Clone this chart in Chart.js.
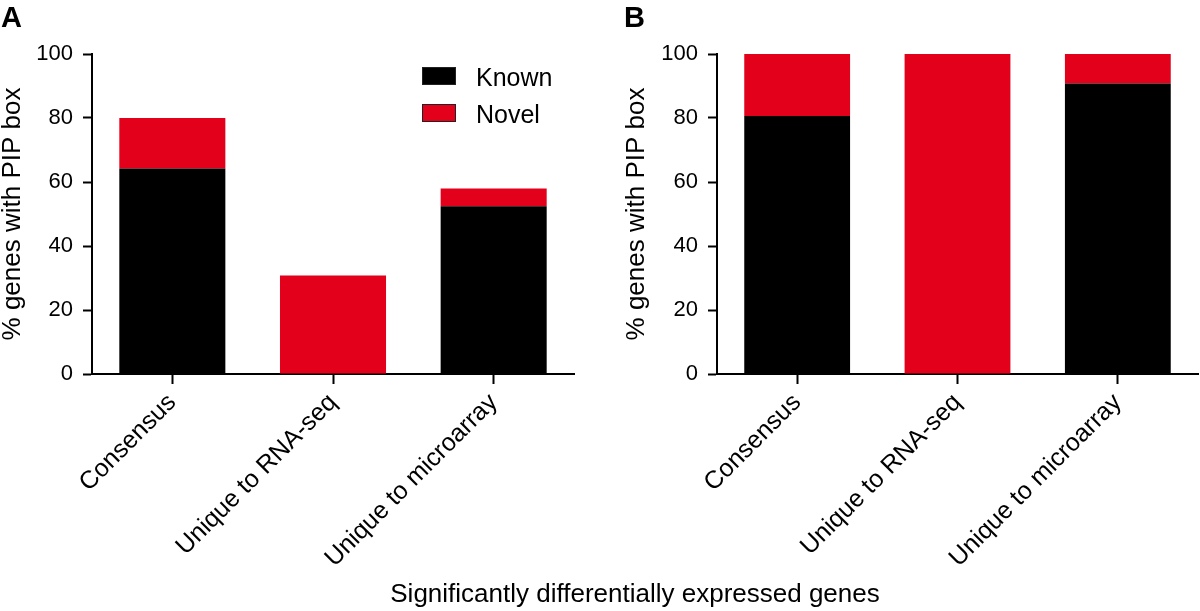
<!DOCTYPE html>
<html><head><meta charset="utf-8">
<script src="https://cdn.jsdelivr.net/npm/chart.js@4.4.0/dist/chart.umd.min.js"></script>
<style>
body{margin:0;background:#fff;width:1200px;height:611px;position:relative;overflow:hidden;font-family:'Liberation Sans',Arial,Helvetica,sans-serif;color:#000;}
.wrap{position:absolute;top:0;width:600px;height:611px;}
canvas{display:block;}
.letter{position:absolute;font-weight:bold;font-size:29px;line-height:29px;top:3px;}
.xtitle{position:absolute;left:0;width:1270px;text-align:center;top:580px;font-size:26px;line-height:26px;}
.legend{position:absolute;left:422px;top:67px;font-size:25px;}
.item{position:relative;height:37px;}
.box{position:absolute;left:0;top:0;width:32px;height:16px;border:1px solid #222;}
.lab{position:absolute;left:54px;top:-2px;line-height:25px;}
</style></head>
<body>
<div class="wrap" style="left:0"><canvas id="cA" width="600" height="611"></canvas></div>
<div class="wrap" style="left:600px"><canvas id="cB" width="600" height="611"></canvas></div>
<div class="letter" style="left:1px">A</div>
<div class="letter" style="left:624px">B</div>
<div class="xtitle">Significantly differentially expressed genes</div>
<div class="legend" id="legend"></div>
<script>
const categories = ['Consensus', 'Unique to RNA-seq', 'Unique to microarray'];
const seriesNames = ['Known', 'Novel'];
const knownA = [64.2, 0, 52.4];
const novelA = [15.8, 30.8, 5.6];
const knownB = [80.6, 0, 90.8];
const novelB = [19.4, 100, 9.2];
const yTicks = [0, 20, 40, 60, 80, 100];
const colors = ['#000000', '#E2001A'];
const yTitle = '% genes with PIP box';
const FAM = "'Liberation Sans', Arial, Helvetica, sans-serif";

function makeChart(id, known, novel, padLeft, yWidth, padRight) {
  return new Chart(document.getElementById(id), {
    type: 'bar',
    data: {
      labels: categories,
      datasets: [
        {label: seriesNames[0], data: known, backgroundColor: colors[0], borderWidth: 0, barPercentage: 0.66, categoryPercentage: 1},
        {label: seriesNames[1], data: novel, backgroundColor: colors[1], borderWidth: 0, barPercentage: 0.66, categoryPercentage: 1}
      ]
    },
    options: {
      responsive: false,
      animation: false,
      layout: {padding: {left: padLeft, top: 54, right: padRight, bottom: 0}},
      plugins: {legend: {display: false}, tooltip: {enabled: false}},
      scales: {
        x: {
          stacked: true,
          grid: {display: true, drawOnChartArea: false, drawTicks: true, tickLength: 10, tickWidth: 2, tickColor: '#000', offset: false},
          border: {display: true, color: '#000', width: 2},
          ticks: {color: '#000', font: {size: 25, family: FAM}, maxRotation: 45, minRotation: 45, padding: 4, autoSkip: false},
          afterFit(a) { a.height = 237; }
        },
        y: {
          stacked: true, min: 0, max: 100,
          afterBuildTicks(a) { a.ticks = yTicks.map(v => ({value: v})); },
          grid: {display: true, drawOnChartArea: false, drawTicks: true, tickLength: 9, tickWidth: 2, tickColor: '#000'},
          border: {display: true, color: '#000', width: 2},
          ticks: {color: '#000', font: {size: 22, family: FAM}, padding: 10},
          title: {display: true, text: yTitle, color: '#000', font: {size: 26, family: FAM, lineHeight: 0.96}, padding: 0},
          afterFit(a) { a.width = yWidth; }
        }
      }
    }
  });
}
makeChart('cA', knownA, novelA, 0, 92, 26);
makeChart('cB', knownB, novelB, 24, 93, 2);

const lg = document.getElementById('legend');
seriesNames.forEach((n, i) => {
  const it = document.createElement('div'); it.className = 'item';
  const b = document.createElement('div'); b.className = 'box'; b.style.background = colors[i];
  const t = document.createElement('div'); t.className = 'lab'; t.textContent = n;
  it.appendChild(b); it.appendChild(t); lg.appendChild(it);
});
</script>
</body></html>
